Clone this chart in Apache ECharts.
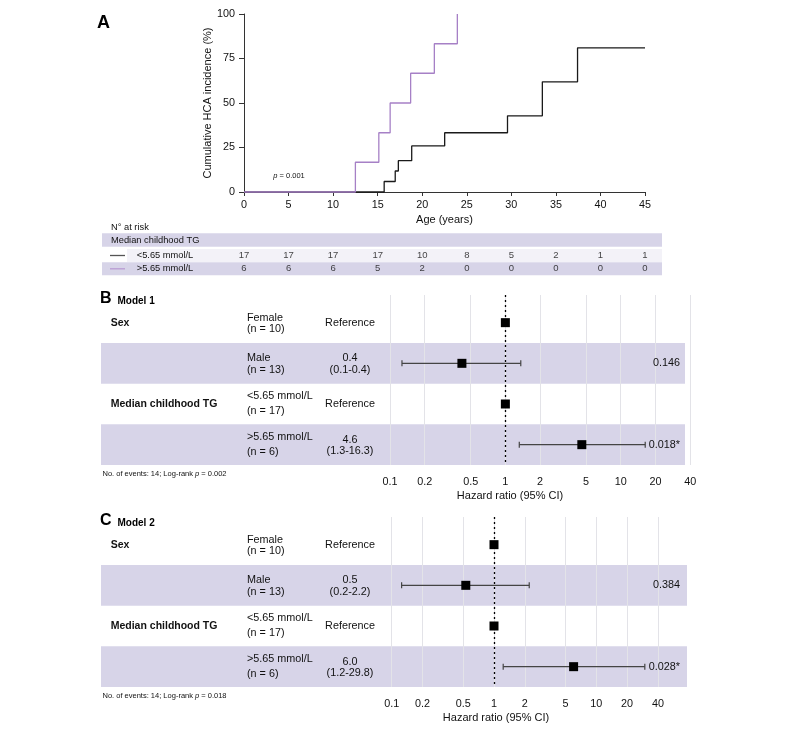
<!DOCTYPE html>
<html><head><meta charset="utf-8">
<script src="https://cdn.jsdelivr.net/npm/echarts@6/dist/echarts.min.js"></script>
<style>html,body{margin:0;padding:0;background:#fff}#c{width:787px;height:731px}</style>
</head><body><div id="c"></div>
<script>
// ---------- DATA ----------
const kmAgeTicks = [0, 5, 10, 15, 20, 25, 30, 35, 40, 45];
const kmLowX  = [0, 15.73, 16.97, 17.32, 18.82, 22.52, 29.57, 33.48, 37.43, 45];
const kmLowY  = [0, 5.9, 11.8, 17.6, 25.9, 33.3, 42.8, 61.9, 81.0, 81.0];
const kmHighX = [0, 12.5, 15.13, 16.4, 18.7, 21.36, 23.94];
const kmHighY = [0, 16.7, 33.3, 50.0, 66.7, 83.3, 100];
const riskLow  = [17, 17, 17, 17, 10, 8, 5, 2, 1, 1];
const riskHigh = [6, 6, 6, 5, 2, 0, 0, 0, 0, 0];
const riskGroups = ['<5.65 mmol/L', '>5.65 mmol/L'];
const kmP = '0.001';

const forestGroups = ['Sex', '', 'Median childhood TG', ''];
const forestLevels = [['Female', '(n = 10)'], ['Male', '(n = 13)'], ['<5.65 mmol/L', '(n = 17)'], ['>5.65 mmol/L', '(n = 6)']];
const hrTicks = [0.1, 0.2, 0.5, 1, 2, 5, 10, 20, 40];

const m1HR = [1, 0.42, 1, 4.6];
const m1Lo = [null, 0.127, null, 1.32];
const m1Hi = [null, 1.36, null, 16.3];
const m1Text = [['Reference'], ['0.4', '(0.1-0.4)'], ['Reference'], ['4.6', '(1.3-16.3)']];
const m1P = ['', '0.146', '', '0.018*'];
const m1Events = 14, m1LogRank = '0.002';

const m2HR = [1, 0.53, 1, 6.0];
const m2Lo = [null, 0.125, null, 1.23];
const m2Hi = [null, 2.21, null, 29.8];
const m2Text = [['Reference'], ['0.5', '(0.2-2.2)'], ['Reference'], ['6.0', '(1.2-29.8)']];
const m2P = ['', '0.384', '', '0.028*'];
const m2Events = 14, m2LogRank = '0.018';

// ---------- STYLE / LAYOUT ----------
const FONT = "'Liberation Sans', Arial, sans-serif";
const PURPLE = '#a680c6';
const BAND = '#d7d4e8';
const TXT = '#111';

const chart = echarts.init(document.getElementById('c'), null, {renderer: 'canvas'});

const graphics = [];
function txt(x, y, text, o) {
  o = o || {};
  graphics.push({type: 'text', x: x, y: y, z: 20, silent: true,
    style: Object.assign({text: text, fontFamily: FONT, fontSize: 10.8, fill: TXT,
      align: 'left', verticalAlign: 'middle'}, o)});
}
function rect(x, y, w, h, fill) {
  graphics.push({type: 'rect', z: 0, silent: true, shape: {x: x, y: y, width: w, height: h}, style: {fill: fill}});
}
function hline(x1, x2, y, col) {
  graphics.push({type: 'line', z: 5, silent: true, shape: {x1: x1, y1: y, x2: x2, y2: y}, style: {stroke: col, lineWidth: 1.3}});
}

// Panel A labels
txt(97, 23, 'A', {fontSize: 18, fontWeight: 'bold', fill: '#000'});
txt(289, 176, '{i|p}{n| = ' + kmP + '}', {align: 'center', rich: {i: {fontStyle: 'italic', fontSize: 7.5, fontFamily: FONT, fill: TXT}, n: {fontSize: 7.5, fontFamily: FONT, fill: TXT}}});
txt(111, 227, 'N° at risk', {fontSize: 9.3});
rect(102, 233.3, 560, 13.4, BAND);
txt(111, 240, 'Median childhood TG', {fontSize: 9.3});
rect(127, 249, 535, 13, '#f3f2f8');
rect(102, 262.3, 560, 13, BAND);
hline(110, 125, 255.5, '#555');
hline(110, 125, 268.8, '#b99bd3');
txt(136.7, 255.5, riskGroups[0], {fontSize: 9.3});
txt(136.7, 268.8, riskGroups[1], {fontSize: 9.3});

// Forest panels
const panels = [
  {letter: 'B', model: 'Model 1', top: 295, bandL: 101, bandR: 685, hr: m1HR, lo: m1Lo, hi: m1Hi, text: m1Text, p: m1P, ev: m1Events, lr: m1LogRank, gridL: 390, gridR: 690.2, max: 40, titleX: 510},
  {letter: 'C', model: 'Model 2', top: 517, bandL: 101, bandR: 687, hr: m2HR, lo: m2Lo, hi: m2Hi, text: m2Text, p: m2P, ev: m2Events, lr: m2LogRank, gridL: 391.7, gridR: 686.7, max: 76.5, titleX: 496}
];
const PITCH = 40.67, YMIN = -0.68, GH = 170;

panels.forEach(function (pn) {
  const c0 = pn.top + (-YMIN) * PITCH; // row 0 center
  txt(100, pn.top + 4, pn.letter, {fontSize: 16, fontWeight: 'bold', fill: '#000'});
  txt(117.5, pn.top + 6, pn.model, {fontSize: 10, fontWeight: 'bold', fill: '#000'});
  for (let i = 0; i < 4; i++) {
    const c = c0 + i * PITCH;
    if (i % 2 === 1) rect(pn.bandL, c - PITCH / 2, pn.bandR - pn.bandL, PITCH, BAND);
    if (forestGroups[i]) txt(110.7, c, forestGroups[i], {fontWeight: 'bold', fontSize: 10.5});
    const up = i < 2 ? -5 : -8, dn = i < 2 ? 6.5 : 7;
    txt(247, c + up, forestLevels[i][0]);
    txt(247, c + dn, forestLevels[i][1]);
    if (pn.text[i].length === 1) txt(350, c, pn.text[i][0], {align: 'center'});
    else { txt(350, c - 5, pn.text[i][0], {align: 'center'}); txt(350, c + 6.5, pn.text[i][1], {align: 'center'}); }
    if (pn.p[i]) txt(680, c, pn.p[i], {align: 'right'});
  }
  const by = pn.top + GH;
  txt(102.5, by + 8.5, '{n|No. of events: ' + pn.ev + '; Log-rank }{i|p}{n| = ' + pn.lr + '}',
    {rich: {i: {fontStyle: 'italic', fontSize: 7.5, fontFamily: FONT, fill: TXT}, n: {fontSize: 7.5, fontFamily: FONT, fill: TXT}}});
  txt(pn.titleX, by + 31, 'Hazard ratio (95% CI)', {align: 'center', fontSize: 11});
});

// ---------- OPTION ----------
const axisCol = '#333';
const grids = [
  {left: 244, top: 14, width: 401, height: 178},
  {left: 244, top: 248.6, width: 401, height: 26.8},
  {left: panels[0].gridL, top: panels[0].top, width: panels[0].gridR - panels[0].gridL, height: GH},
  {left: panels[1].gridL, top: panels[1].top, width: panels[1].gridR - panels[1].gridL, height: GH}
];

function logAxis(gi, max) {
  return {type: 'log', gridIndex: gi, min: 0.1, max: max, logBase: 10, z: 3,
    axisLine: {show: false}, axisTick: {show: false, customValues: hrTicks},
    axisLabel: {customValues: hrTicks, formatter: function (v) { return String(v); }, fontSize: 10.8, color: TXT, fontFamily: FONT, margin: 12},
    splitLine: {show: true, lineStyle: {color: '#e3e3e8', width: 1}}, minorTick: {show: false}, minorSplitLine: {show: false}};
}
function rowAxis(gi) {
  return {type: 'value', gridIndex: gi, min: YMIN, max: 3.5, inverse: true, show: false, splitLine: {show: false}};
}

const riskData = [];
kmAgeTicks.forEach(function (t, i) { riskData.push([t, 0, riskLow[i]]); riskData.push([t, 1, riskHigh[i]]); });

function forestSeries(pi, pn) {
  const sq = pn.hr.map(function (h, i) { return [h, i]; });
  const ci = [];
  pn.lo.forEach(function (l, i) { if (l != null) ci.push([l, pn.hi[i], i]); });
  return [
    {type: 'custom', xAxisIndex: pi, yAxisIndex: pi, z: 4, silent: true, clip: false,
      encode: {x: [0, 1], y: 2}, data: ci,
      renderItem: function (params, api) {
        const y = api.value(2);
        const a = api.coord([api.value(0), y]);
        const b = api.coord([api.value(1), y]);
        const st = {stroke: '#444', lineWidth: 1.2};
        return {type: 'group', children: [
          {type: 'line', shape: {x1: a[0], y1: a[1], x2: b[0], y2: b[1]}, style: st},
          {type: 'line', shape: {x1: a[0], y1: a[1] - 3, x2: a[0], y2: a[1] + 3}, style: st},
          {type: 'line', shape: {x1: b[0], y1: b[1] - 3, x2: b[0], y2: b[1] + 3}, style: st}
        ]};
      }},
    {type: 'scatter', xAxisIndex: pi, yAxisIndex: pi, z: 6, silent: true, symbol: 'rect', symbolSize: 9,
      itemStyle: {color: '#000', opacity: 1}, data: sq,
      markLine: {silent: true, symbol: 'none', label: {show: false}, animation: false,
        lineStyle: {color: '#000', type: [2, 3], width: 1.3}, data: [{xAxis: 1}]}}
  ];
}

const option = {
  animation: false,
  backgroundColor: '#fff',
  textStyle: {fontFamily: FONT},
  grid: grids,
  xAxis: [
    {type: 'value', gridIndex: 0, min: 0, max: 45, interval: 5,
      name: 'Age (years)', nameLocation: 'middle', nameGap: 22, nameMoveOverlap: false, nameTextStyle: {fontSize: 11, color: TXT, fontFamily: FONT},
      axisLine: {lineStyle: {color: axisCol, width: 1}}, axisTick: {length: 4, lineStyle: {color: axisCol}},
      axisLabel: {fontSize: 10.8, color: TXT, margin: 8, fontFamily: FONT}, splitLine: {show: false}},
    {type: 'value', gridIndex: 1, min: 0, max: 45, show: false, splitLine: {show: false}},
    logAxis(2, panels[0].max),
    logAxis(3, panels[1].max)
  ],
  yAxis: [
    {type: 'value', gridIndex: 0, min: 0, max: 100, interval: 25,
      name: 'Cumulative HCA incidence (%)', nameLocation: 'middle', nameGap: 31, nameMoveOverlap: false, nameTextStyle: {fontSize: 11, color: TXT, fontFamily: FONT},
      axisLine: {show: true, lineStyle: {color: axisCol, width: 1}}, axisTick: {show: true, length: 5, lineStyle: {color: axisCol}},
      axisLabel: {fontSize: 10.8, color: TXT, margin: 9, fontFamily: FONT}, splitLine: {show: false}},
    {type: 'value', gridIndex: 1, min: -0.5, max: 1.5, inverse: true, show: false, splitLine: {show: false}},
    rowAxis(2), rowAxis(3)
  ],
  graphic: {elements: graphics},
  series: [
    {type: 'line', xAxisIndex: 0, yAxisIndex: 0, step: 'end', showSymbol: false, clip: false, silent: true,
      lineStyle: {color: '#1a1a1a', width: 1.3}, itemStyle: {color: '#1a1a1a'},
      data: kmLowX.map(function (x, i) { return [x, kmLowY[i]]; })},
    {type: 'line', xAxisIndex: 0, yAxisIndex: 0, step: 'end', showSymbol: false, clip: false, silent: true,
      lineStyle: {color: PURPLE, width: 1.3}, itemStyle: {color: PURPLE},
      data: kmHighX.map(function (x, i) { return [x, kmHighY[i]]; })},
    {type: 'scatter', xAxisIndex: 1, yAxisIndex: 1, symbolSize: 0, silent: true, clip: false,
      label: {show: true, position: 'inside', fontSize: 9.5, color: TXT, fontFamily: FONT,
        formatter: function (p) { return String(p.value[2]); }},
      data: riskData}
  ].concat(forestSeries(2, panels[0])).concat(forestSeries(3, panels[1]))
};
chart.setOption(option);
</script></body></html>
